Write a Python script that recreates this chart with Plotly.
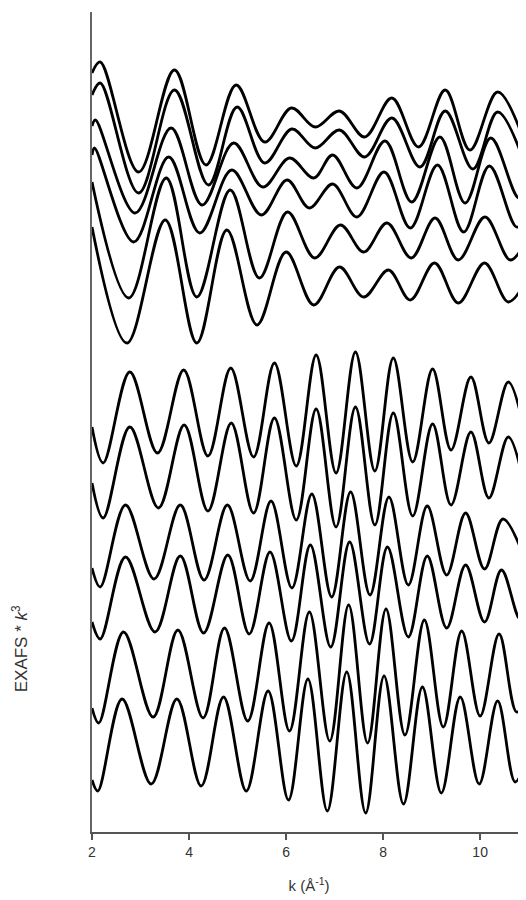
import plotly.graph_objects as go

# EXAFS * k^3 traces (k in 1/A, y in arbitrary offset units)
# upper group, top to bottom
u1_k = [2.00, 2.17, 2.96, 3.70, 4.35, 4.97, 5.56, 6.11, 6.60, 7.10, 7.62, 8.18, 8.73, 9.28, 9.79, 10.36, 10.95]
u1_y = [75.9, 77.0, 66.0, 76.2, 66.7, 74.7, 69.0, 72.4, 70.5, 72.1, 69.5, 73.4, 68.5, 74.2, 68.2, 74.0, 68.5]

u2_k = [2.00, 2.17, 2.96, 3.70, 4.40, 4.99, 5.56, 6.12, 6.60, 7.10, 7.62, 8.18, 8.76, 9.28, 9.85, 10.36, 10.95]
u2_y = [73.7, 74.9, 63.9, 74.2, 64.7, 72.5, 66.9, 70.3, 68.4, 70.2, 67.5, 71.4, 66.5, 72.1, 66.3, 72.0, 66.4]

u3_k = [2.00, 2.07, 2.89, 3.63, 4.27, 4.92, 5.52, 6.07, 6.57, 6.96, 7.46, 8.04, 8.59, 9.17, 9.69, 10.22, 10.79, 10.95]
u3_y = [70.6, 71.2, 61.9, 70.4, 62.7, 68.9, 64.5, 67.4, 65.4, 67.7, 64.4, 69.1, 63.0, 69.5, 62.9, 69.4, 63.4, 63.7]

u4_k = [2.00, 2.05, 2.86, 3.58, 4.22, 4.88, 5.49, 6.02, 6.48, 6.96, 7.46, 8.02, 8.56, 9.12, 9.66, 10.19, 10.75, 10.95]
u4_y = [67.7, 68.4, 59.0, 67.5, 59.9, 66.2, 61.7, 65.2, 62.4, 64.8, 61.5, 66.0, 60.4, 66.7, 60.0, 66.6, 60.5, 61.2]

u5_k = [2.00, 2.76, 3.53, 4.16, 4.85, 5.45, 6.03, 6.59, 7.12, 7.60, 8.08, 8.58, 9.07, 9.55, 10.10, 10.62, 10.95]
u5_y = [65.0, 53.4, 65.4, 53.5, 64.2, 55.4, 62.0, 57.4, 60.7, 58.0, 60.9, 57.4, 61.4, 57.2, 61.5, 57.2, 59.2]

u6_k = [2.00, 2.72, 3.51, 4.16, 4.78, 5.40, 6.00, 6.57, 7.10, 7.60, 8.11, 8.56, 9.06, 9.55, 10.09, 10.58, 10.95]
u6_y = [60.5, 48.9, 61.2, 48.9, 60.2, 50.7, 58.0, 52.7, 56.5, 53.5, 56.2, 53.2, 56.9, 52.9, 56.9, 53.0, 55.2]

# lower group, top to bottom
l1_k = [2.00, 2.23, 2.78, 3.35, 3.89, 4.39, 4.86, 5.33, 5.76, 6.21, 6.62, 7.03, 7.43, 7.83, 8.21, 8.61, 9.02, 9.40, 9.81, 10.18, 10.58, 10.95]
l1_y = [40.5, 36.9, 46.0, 37.9, 46.2, 37.6, 46.4, 37.5, 46.9, 36.6, 47.7, 35.9, 48.0, 36.1, 47.4, 37.0, 46.3, 38.2, 45.5, 38.9, 45.0, 39.2]

l2_k = [2.00, 2.23, 2.78, 3.37, 3.90, 4.39, 4.87, 5.33, 5.76, 6.21, 6.62, 7.03, 7.43, 7.83, 8.21, 8.61, 9.02, 9.40, 9.81, 10.18, 10.58, 10.95]
l2_y = [34.9, 31.4, 40.5, 32.4, 40.7, 32.1, 40.9, 31.9, 41.4, 31.2, 42.3, 30.5, 42.5, 30.7, 41.9, 31.6, 40.8, 32.7, 40.0, 33.4, 39.5, 33.7]

l3_k = [2.00, 2.17, 2.69, 3.28, 3.82, 4.31, 4.79, 5.26, 5.69, 6.12, 6.53, 6.94, 7.33, 7.73, 8.12, 8.52, 8.91, 9.31, 9.70, 10.09, 10.47, 10.95]
l3_y = [26.4, 24.5, 32.7, 25.3, 32.7, 25.2, 32.7, 25.1, 33.1, 24.4, 33.8, 23.5, 34.0, 23.7, 33.5, 24.7, 32.6, 25.7, 31.9, 26.3, 31.3, 26.9]

l4_k = [2.00, 2.17, 2.69, 3.30, 3.82, 4.30, 4.80, 5.24, 5.67, 6.11, 6.50, 6.92, 7.31, 7.72, 8.09, 8.52, 8.91, 9.31, 9.70, 10.09, 10.44, 10.82, 10.95]
l4_y = [21.0, 19.3, 27.5, 20.0, 27.6, 19.9, 27.7, 19.8, 28.0, 19.1, 28.7, 18.5, 29.0, 18.8, 28.5, 19.5, 27.6, 20.4, 26.7, 21.0, 26.2, 21.3, 22.0]

l5_k = [2.00, 2.14, 2.65, 3.26, 3.77, 4.29, 4.73, 5.21, 5.65, 6.07, 6.48, 6.90, 7.29, 7.68, 8.06, 8.45, 8.85, 9.24, 9.62, 10.00, 10.39, 10.75, 10.95]
l5_y = [12.4, 10.9, 20.0, 11.5, 20.2, 11.4, 20.4, 11.1, 20.9, 10.1, 22.0, 9.1, 22.7, 8.9, 22.3, 9.7, 21.2, 10.5, 20.1, 11.6, 19.8, 12.0, 13.2]

l6_k = [2.00, 2.12, 2.62, 3.22, 3.75, 4.25, 4.71, 5.18, 5.63, 6.05, 6.45, 6.85, 7.25, 7.64, 8.02, 8.42, 8.81, 9.20, 9.59, 9.98, 10.36, 10.72, 10.95]
l6_y = [5.2, 4.1, 13.3, 4.8, 13.3, 4.6, 13.5, 4.1, 14.1, 3.2, 15.3, 2.1, 16.0, 1.9, 15.6, 2.8, 14.5, 3.9, 13.5, 4.8, 13.1, 5.0, 7.2]

curves = [(u1_k, u1_y), (u2_k, u2_y), (u3_k, u3_y), (u4_k, u4_y), (u5_k, u5_y), (u6_k, u6_y),
          (l1_k, l1_y), (l2_k, l2_y), (l3_k, l3_y), (l4_k, l4_y), (l5_k, l5_y), (l6_k, l6_y)]

x_ticks = [2, 4, 6, 8, 10]

fig = go.Figure()
for ks, ys in curves:
    fig.add_trace(go.Scatter(x=ks, y=ys, mode='lines',
                             line=dict(color='black', width=2.8, shape='spline', smoothing=1.0),
                             showlegend=False, hoverinfo='skip'))

# page body adds 8px, so the figure is sized to end at the window edge
fig.update_layout(
    width=518, height=892,
    margin=dict(l=84, r=0, t=4, b=68),
    plot_bgcolor='white', paper_bgcolor='white',
    font=dict(family='Liberation Sans, Arial, sans-serif', color='#333333', size=14),
)
fig.update_xaxes(range=[2, 10.945], tickvals=x_ticks, ticks='outside', ticklen=6, tickwidth=1.5,
                 tickcolor='#555555', showline=True, linecolor='#555555', linewidth=2,
                 tickfont=dict(size=14, color='#333333'),
                 showgrid=False, zeroline=False,
                 title=dict(text='k (Å<sup>-1</sup>)', font=dict(size=15, color='#333333'), standoff=22))
fig.update_yaxes(range=[0, 82], showticklabels=False, ticks='', showline=True,
                 linecolor='#666666', linewidth=2, showgrid=False, zeroline=False)

# y title sits well below the middle of the axis in the original
fig.add_annotation(text='EXAFS * <i>k</i><sup>3</sup>', xref='paper', yref='paper',
                   x=-0.166, y=0.224, xanchor='center', yanchor='middle',
                   textangle=-90, showarrow=False,
                   font=dict(size=17, color='#333333'))

fig.write_html("out.html")
